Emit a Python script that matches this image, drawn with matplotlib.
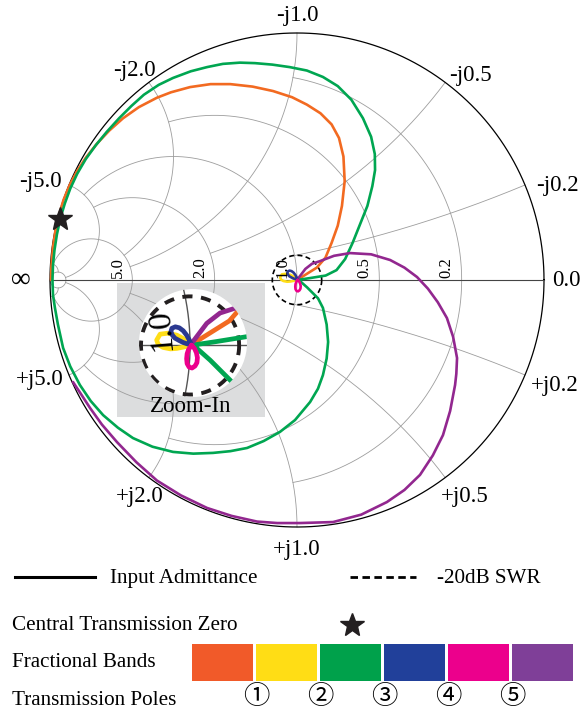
import numpy as np
import matplotlib.pyplot as plt
from matplotlib.patches import Circle, Rectangle

plt.rcParams['font.family'] = ['Liberation Serif', 'Noto Sans CJK JP', 'DejaVu Sans']

# ---- data --------------------------------------------------------------
# admittance smith chart grid, each value is cut where it meets its end value
grid_vals = [0.2, 0.5, 1.0, 2.0, 5.0, 30.0]
grid_ends = [1.0, 2.0, 5.0, 5.0, 30.0, 30.0]
g_tick_labels = ["0.2", "0.5", "1.0", "2.0", "5.0"]
b_tick_labels = ["0.2", "0.5", "1.0", "2.0", "5.0"]

# input admittance traces, reflection coefficient (re, im)
orange_trace = [
    (0.000, 0.000), (0.040, 0.025), (0.080, 0.050), (0.115, 0.090), (0.140, 0.150),
    (0.165, 0.220), (0.182, 0.300), (0.193, 0.400), (0.188, 0.500), (0.170, 0.575),
    (0.140, 0.630), (0.095, 0.675), (0.040, 0.710), (-0.020, 0.740), (-0.097, 0.765),
    (-0.180, 0.783), (-0.270, 0.793), (-0.350, 0.793), (-0.433, 0.781), (-0.510, 0.760),
    (-0.567, 0.738), (-0.640, 0.700), (-0.704, 0.655), (-0.760, 0.605), (-0.810, 0.552),
    (-0.855, 0.495), (-0.891, 0.440), (-0.920, 0.385), (-0.945, 0.325), (-0.963, 0.265),
    (-0.978, 0.200), (-0.988, 0.130), (-0.994, 0.060), (-0.996, 0.000),
]
green_trace = [
    (0.000, 0.000), (0.014, 0.002), (0.054, 0.008), (0.116, 0.018), (0.160, 0.040),
    (0.195, 0.085), (0.225, 0.150), (0.255, 0.225), (0.285, 0.300), (0.305, 0.380),
    (0.316, 0.445), (0.315, 0.510), (0.300, 0.580), (0.267, 0.655), (0.220, 0.730),
    (0.165, 0.785), (0.105, 0.822), (0.040, 0.848), (-0.030, 0.862), (-0.100, 0.872),
    (-0.170, 0.878), (-0.231, 0.880), (-0.300, 0.875), (-0.364, 0.862), (-0.430, 0.845),
    (-0.502, 0.818), (-0.560, 0.790), (-0.620, 0.750), (-0.670, 0.705), (-0.720, 0.655),
    (-0.770, 0.600), (-0.815, 0.545), (-0.855, 0.490), (-0.890, 0.430), (-0.918, 0.370),
    (-0.940, 0.310), (-0.958, 0.250), (-0.972, 0.185), (-0.982, 0.120), (-0.988, 0.060),
    (-0.990, 0.000), (-0.988, -0.060), (-0.980, -0.113), (-0.968, -0.180), (-0.947, -0.275),
    (-0.918, -0.350), (-0.879, -0.425), (-0.835, -0.490), (-0.785, -0.547), (-0.725, -0.598),
    (-0.664, -0.640), (-0.585, -0.675), (-0.502, -0.696), (-0.420, -0.703), (-0.340, -0.700),
    (-0.270, -0.693), (-0.202, -0.680), (-0.135, -0.652), (-0.069, -0.615), (-0.008, -0.567),
    (0.053, -0.494), (0.085, -0.440), (0.105, -0.385), (0.120, -0.318), (0.126, -0.251),
    (0.120, -0.180), (0.105, -0.113), (0.085, -0.074), (0.068, -0.057), (0.041, -0.030),
    (0.014, -0.006), (0.000, 0.000),
]
purple_trace = [
    (0.000, 0.000), (0.003, 0.004), (0.034, 0.045), (0.061, 0.066), (0.092, 0.076),
    (0.150, 0.098), (0.215, 0.109), (0.300, 0.104), (0.377, 0.081), (0.435, 0.050),
    (0.486, 0.012), (0.530, -0.035), (0.570, -0.090), (0.607, -0.154), (0.632, -0.230),
    (0.648, -0.316), (0.645, -0.380), (0.640, -0.425), (0.620, -0.530), (0.591, -0.628),
    (0.550, -0.710), (0.498, -0.789), (0.435, -0.850), (0.364, -0.899), (0.260, -0.950),
    (0.146, -0.980), (0.012, -0.984), (-0.080, -0.984), (-0.162, -0.978), (-0.265, -0.955),
    (-0.364, -0.923), (-0.470, -0.872), (-0.567, -0.812), (-0.650, -0.738), (-0.729, -0.656),
    (-0.790, -0.585), (-0.838, -0.518), (-0.877, -0.458), (-0.907, -0.413),
]
yellow_trace = [
    (0.003, 0.001), (-0.012, 0.013), (-0.027, 0.021), (-0.045, 0.025), (-0.061, 0.023),
    (-0.068, 0.011), (-0.065, 0.002), (-0.055, -0.004), (-0.040, -0.007), (-0.027, -0.006),
    (-0.012, -0.003), (0.000, 0.000),
]
blue_trace = [
    (0.003, 0.001), (-0.002, 0.012), (-0.007, 0.021), (-0.014, 0.030), (-0.022, 0.036),
    (-0.030, 0.038), (-0.037, 0.035), (-0.039, 0.028), (-0.036, 0.021), (-0.031, 0.015),
    (-0.022, 0.010), (-0.014, 0.006), (-0.005, 0.003), (0.003, 0.001),
]
magenta_trace = [
    (0.003, 0.001), (0.009, -0.006), (0.013, -0.015), (0.015, -0.025), (0.014, -0.035),
    (0.010, -0.042), (0.004, -0.046), (-0.002, -0.044), (-0.006, -0.037), (-0.007, -0.027),
    (-0.006, -0.017), (-0.003, -0.008), (0.003, 0.000),
]
zero_point = (-0.958, 0.245)
swr_radius = 0.1   # -20 dB

band_colors = ["#F15A29", "#FFDD15", "#00A14B", "#21409A", "#EC008C", "#7F3F98"]
pole_labels = ["\u2460", "\u2461", "\u2462", "\u2463", "\u2464"]

traces = [
    (orange_trace, "#F26A21"),
    (green_trace, "#00A651"),
    (purple_trace, "#92278F"),
    (yellow_trace, "#FFDE17"),
    (blue_trace, "#2B3990"),
    (magenta_trace, "#EC008C"),
]


def y2gam(y):
    return (1 - y) / (1 + y)


def px(x, y):
    # figure pixel -> reflection coefficient of the main chart
    return ((x - 297) / 247, (280 - y) / 247)


def draw_grid(ax, lw):
    arts = []
    for v, e in zip(grid_vals, grid_ends):
        bmax = 1e4 if v == 30.0 else e
        b = np.tan(np.linspace(-np.arctan(bmax), np.arctan(bmax), 800))
        gam = y2gam(v + 1j * b)
        arts += ax.plot(gam.real, gam.imag, color="#9d9d9d", lw=lw, zorder=1)
        g = np.tan(np.linspace(0, np.arctan(e), 800))
        for s in (1, -1):
            gam = y2gam(g + 1j * s * v)
            arts += ax.plot(gam.real, gam.imag, color="#9d9d9d", lw=lw, zorder=1)
    return arts


fig = plt.figure(figsize=(5.87, 7.09), dpi=100)

# ---- main chart --------------------------------------------------------
ax = fig.add_axes([50 / 587, (709 - 280 - 247) / 709, 494 / 587, 494 / 709])
ax.set_xlim(-1, 1)
ax.set_ylim(-1, 1)
ax.set_axis_off()

ax.add_patch(Rectangle(px(117, 417), 148 / 247, 134 / 247, facecolor="#DCDDDE",
                       edgecolor="none", zorder=0.5))
for ln in draw_grid(ax, 0.6):
    ln.set_clip_on(False)
t = np.linspace(0, 2 * np.pi, 720)
ax.plot(np.cos(t), np.sin(t), color="black", lw=0.9, zorder=2, clip_on=False)
ax.plot([-1, 1], [0, 0], color="#444444", lw=0.8, zorder=2, clip_on=False)
ax.plot(swr_radius * np.cos(t), swr_radius * np.sin(t), color="black", lw=1.2,
        dashes=(3, 2), zorder=3)

for tr, c in traces:
    a = np.array(tr)
    ax.plot(a[:, 0], a[:, 1], color=c, lw=1.9, zorder=4, clip_on=False,
            solid_capstyle="round", solid_joinstyle="round")

ax.plot(*zero_point, marker="*", ms=18, color="#231F20", zorder=6, clip_on=False)

# conductance labels along the real axis
for lab in g_tick_labels:
    g = float(lab)
    edge = (1 - g) / (1 + g)
    ax.text(edge - 0.06, 0.05, lab, rotation=90, fontsize=12, ha="center",
            va="center", zorder=5)

# susceptance labels around the rim
up_off = [(32, 0), (25, 7), (0, 17), (-14, 12), (-29, 3)]
low_off = [(30, -10), (20, -19), (0, -22), (-9, -19), (-29, -5)]
for lab, uo, lo in zip(b_tick_labels, up_off, low_off):
    b = float(lab)
    p = y2gam(-1j * b)
    ax.annotate("-j" + lab, (p.real, p.imag), xytext=uo, textcoords="offset pixels",
                fontsize=16.5, ha="center", va="center")
    p = y2gam(1j * b)
    ax.annotate("+j" + lab, (p.real, p.imag), xytext=lo, textcoords="offset pixels",
                fontsize=16.5, ha="center", va="center")
ax.annotate("\u221e", (-1, 0), xytext=(-29, 0), textcoords="offset pixels",
            fontsize=20, ha="center", va="center")
ax.annotate("0.0", (1, 0), xytext=(22, 0), textcoords="offset pixels",
            fontsize=16.5, ha="center", va="center")

ax.text(*px(191, 407), "Zoom-In", fontsize=16.5, ha="center", va="center", zorder=7)

# ---- zoom-in inset -----------------------------------------------------
ic = (0.006, 0.005)
ir = 0.110
ins = fig.add_axes([139 / 587, (709 - 397) / 709, 108 / 587, 108 / 709])
ins.set_xlim(ic[0] - ir, ic[0] + ir)
ins.set_ylim(ic[1] - ir, ic[1] + ir)
ins.set_axis_off()
disk = Circle(ic, ir, facecolor="white", edgecolor="none", zorder=0)
ins.add_patch(disk)

arts = []
arts += ins.plot([-1, 1], [0, 0], color="#555555", lw=1.0, zorder=1)
gam = y2gam(1.0 + 1j * np.linspace(-1, 1, 400))
arts += ins.plot(gam.real, gam.imag, color="#555555", lw=1.0, zorder=1)
arts += ins.plot(swr_radius * np.cos(t), swr_radius * np.sin(t), color="#231F20",
                 lw=2.8, dashes=(2.6, 2.2), zorder=3)
for tr, c in traces:
    a = np.array(tr)
    arts += ins.plot(a[:, 0], a[:, 1], color=c, lw=3.4, zorder=4,
                     solid_capstyle="round", solid_joinstyle="round")
for a_ in arts:
    a_.set_clip_path(disk)
ins.text(-0.06, 0.032, "1.0", rotation=95, fontsize=24, ha="center", va="center",
         zorder=5)

# ---- legend ------------------------------------------------------------
lg = fig.add_axes([0, 0, 1, 1])
lg.set_xlim(0, 587)
lg.set_ylim(709, 0)
lg.set_axis_off()
fs = 15.2
lg.plot([15, 95], [577, 577], color="black", lw=2.2)
lg.text(110, 583, "Input Admittance", fontsize=fs, va="baseline")
lg.plot([350, 416], [577, 577], color="black", lw=2.0, dashes=(2.7, 1.6))
lg.text(437, 583, "-20dB SWR", fontsize=fs, va="baseline")
lg.text(12, 630, "Central Transmission Zero", fontsize=fs, va="baseline")
lg.plot(352, 625, marker="*", ms=18, color="#231F20")
lg.text(12, 667, "Fractional Bands", fontsize=fs, va="baseline")
for i, c in enumerate(band_colors):
    lg.add_patch(Rectangle((192 + 64 * i, 644), 61, 37, facecolor=c, edgecolor="none"))
lg.text(12, 705, "Transmission Poles", fontsize=fs, va="baseline")
for i, lab in enumerate(pole_labels):
    lg.text(256 + 64 * i, 697, lab, fontsize=19, ha="center", va="center")

fig.savefig("out.png", dpi=100)
